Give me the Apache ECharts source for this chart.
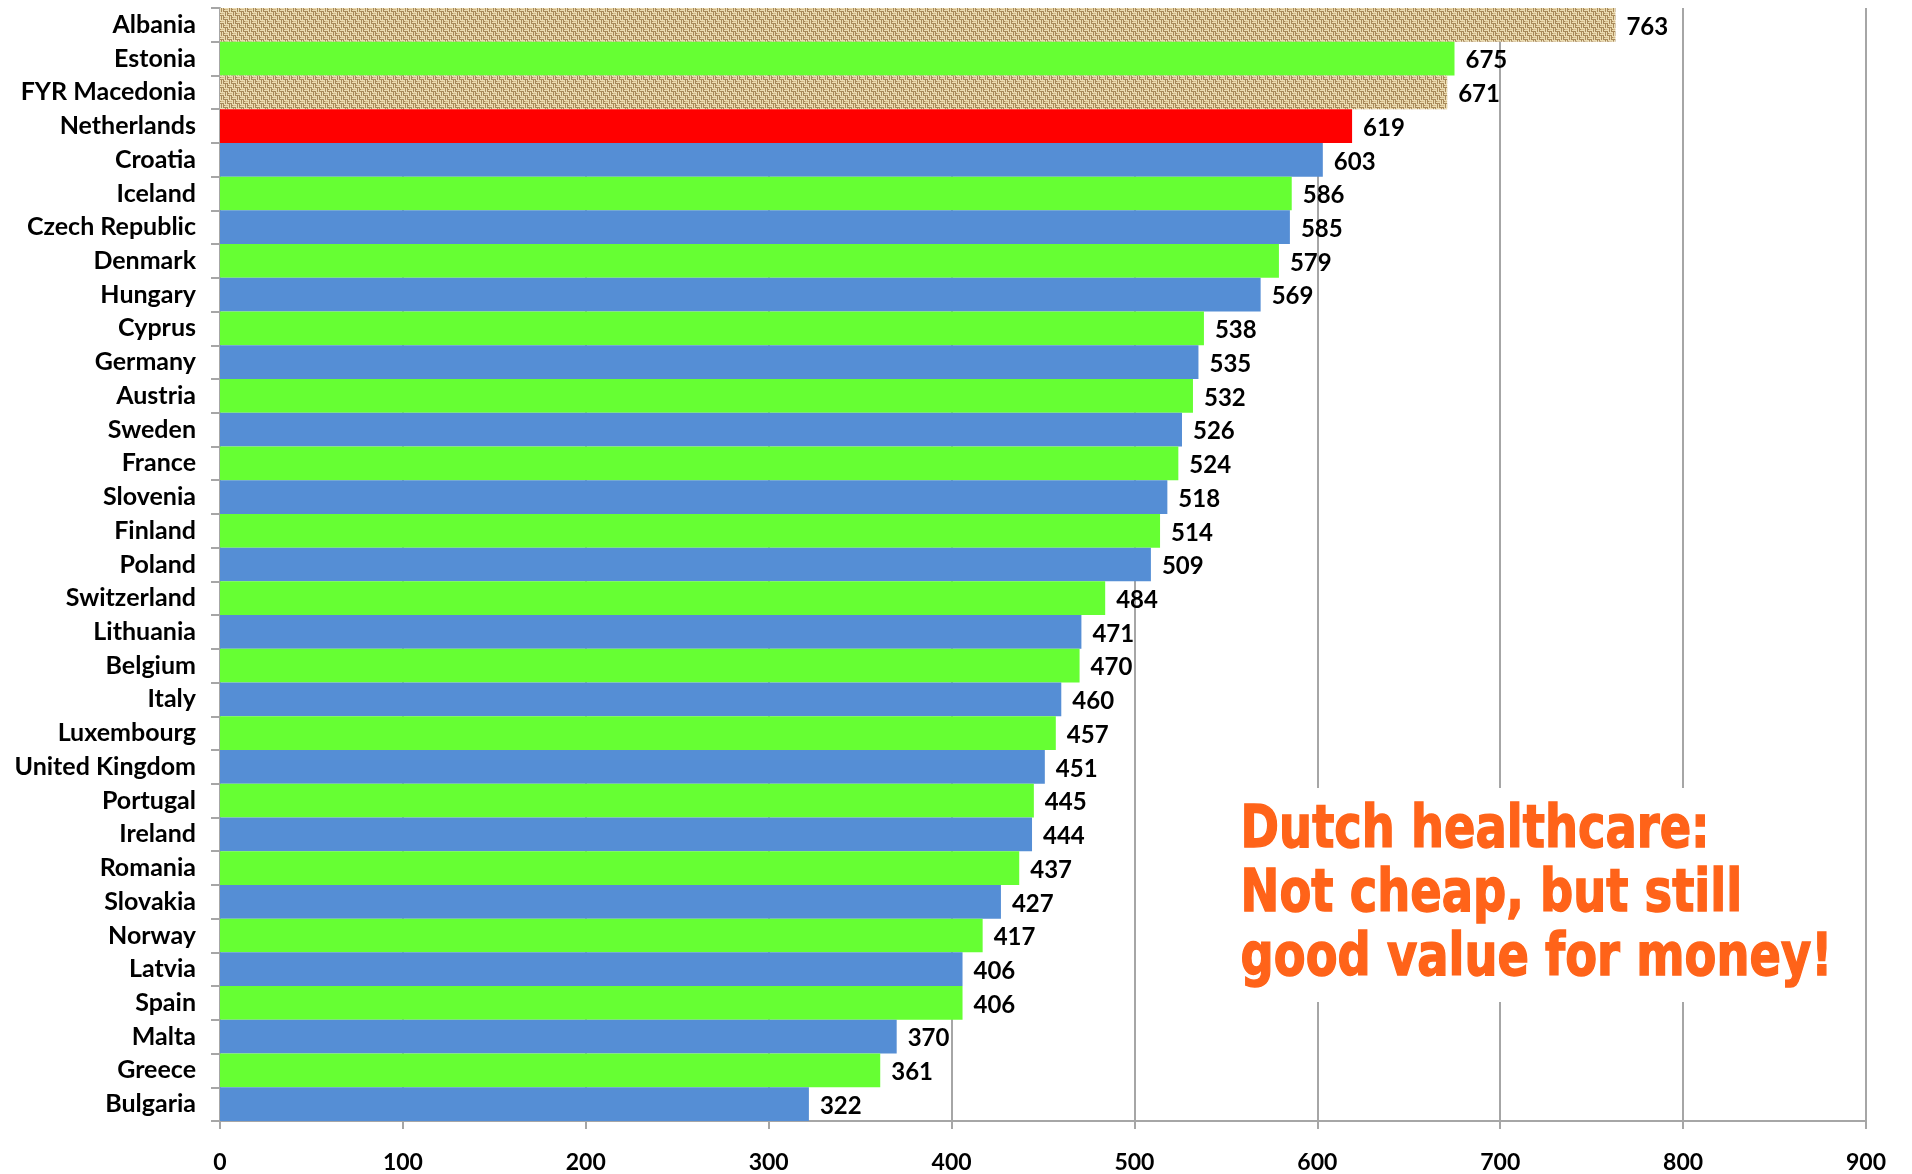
<!DOCTYPE html>
<html>
<head>
<meta charset="utf-8">
<title>Healthcare cost per value</title>
<script src="https://cdn.jsdelivr.net/npm/echarts@6/dist/echarts.min.js"></script>
<style>
  html, body { margin: 0; padding: 0; background: #fff; }
  #main { width: 1912px; height: 1174px; }
</style>
</head>
<body>
<div id="main"></div>
<script>
// countries, top to bottom as in the picture
var countries = ['Albania', 'Estonia', 'FYR Macedonia', 'Netherlands', 'Croatia', 'Iceland',
  'Czech Republic', 'Denmark', 'Hungary', 'Cyprus', 'Germany', 'Austria', 'Sweden', 'France',
  'Slovenia', 'Finland', 'Poland', 'Switzerland', 'Lithuania', 'Belgium', 'Italy', 'Luxembourg',
  'United Kingdom', 'Portugal', 'Ireland', 'Romania', 'Slovakia', 'Norway', 'Latvia', 'Spain',
  'Malta', 'Greece', 'Bulgaria'];
var values = [763, 675, 671, 619, 603, 586, 585, 579, 569, 538, 535, 532, 526, 524, 518, 514,
  509, 484, 471, 470, 460, 457, 451, 445, 444, 437, 427, 417, 406, 406, 370, 361, 322];
// which colour group each bar belongs to
var groups = ['cand', 'green', 'cand', 'nl', 'blue', 'green', 'blue', 'green', 'blue', 'green',
  'blue', 'green', 'blue', 'green', 'blue', 'green', 'blue', 'green', 'blue', 'green', 'blue',
  'green', 'blue', 'green', 'blue', 'green', 'blue', 'green', 'blue', 'green', 'blue', 'green', 'blue'];
var xTicks = [0, 100, 200, 300, 400, 500, 600, 700, 800, 900];
var note = ['Dutch healthcare:', 'Not cheap, but still', 'good value for money!'];

// burlap-like basket weave for the candidate countries
function weave() {
  var c = document.createElement('canvas');
  c.width = 8; c.height = 8;
  var g = c.getContext('2d');
  g.fillStyle = '#a8895a';
  g.fillRect(0, 0, 8, 8);
  g.fillStyle = '#ebdcb2';
  // horizontal threads in two blocks, vertical threads in the other two
  g.fillRect(0, 0, 4, 1); g.fillRect(0, 2, 4, 1);
  g.fillRect(4, 4, 4, 1); g.fillRect(4, 6, 4, 1);
  g.fillRect(4, 0, 1, 4); g.fillRect(6, 0, 1, 4);
  g.fillRect(0, 4, 1, 4); g.fillRect(2, 4, 1, 4);
  g.fillStyle = '#d2b888';
  g.fillRect(1, 1, 3, 1); g.fillRect(5, 5, 3, 1);
  return c;
}

var fills = {
  cand: { image: weave(), repeat: 'repeat' },
  green: '#66ff33',
  blue: '#558ed5',
  nl: '#ff0000'
};

var chart = echarts.init(document.getElementById('main'));
var grey = '#a6a6a6';

chart.setOption({
  animation: false,
  grid: { left: 220, right: 46, top: 8, bottom: 50 },
  xAxis: {
    type: 'value', min: 0, max: 900, interval: 100,
    axisLine: { show: true, lineStyle: { color: grey, width: 2 } },
    axisTick: { show: true, length: 8, lineStyle: { color: grey, width: 2 } },
    splitLine: { show: true, lineStyle: { color: grey, width: 2 } },
    axisLabel: {
      margin: 30, fontSize: 23, fontWeight: 'bold', color: '#000', fontFamily: 'Lato',
      formatter: function (v) { return xTicks.indexOf(v) >= 0 ? String(v) : ''; }
    }
  },
  yAxis: {
    type: 'category', inverse: true, data: countries,
    axisLine: { show: true, lineStyle: { color: grey, width: 2 } },
    axisTick: { show: true, length: 9, lineStyle: { color: grey, width: 2 } },
    axisLabel: { margin: 24, fontSize: 25, fontWeight: 'bold', color: '#000', fontFamily: 'Lato' }
  },
  series: [{
    type: 'bar',
    barCategoryGap: '0%',
    data: values.map(function (v, i) {
      return { value: v, itemStyle: { color: fills[groups[i]] } };
    }),
    label: {
      show: true, position: 'right', distance: 11, offset: [0, 2],
      fontSize: 24, fontWeight: 'bold', color: '#000', fontFamily: 'Lato'
    }
  }],
  graphic: [{
    type: 'rect', left: 1222, top: 788, z: 10,
    shape: { width: 640, height: 214 }, style: { fill: '#fff' }
  }, {
    type: 'text', left: 1240, top: 800, z: 11, scaleX: 0.8,
    style: {
      text: note.join('\n'), fill: '#ff6319', stroke: '#ff6319', lineWidth: 1.5,
      font: 'bold 58px "DejaVu Sans"', lineHeight: 64
    }
  }]
});
</script>
</body>
</html>
